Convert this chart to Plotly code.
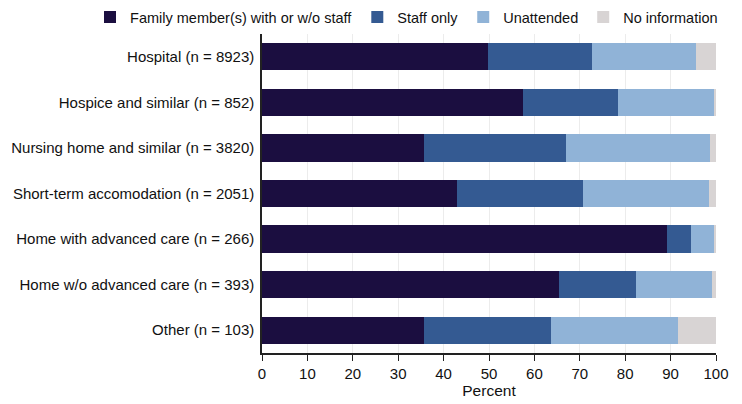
import plotly.graph_objects as go

categories = ['Hospital (n = 8923)', 'Hospice and similar (n = 852)', 'Nursing home and similar (n = 3820)',
              'Short-term accomodation (n = 2051)', 'Home with advanced care (n = 266)',
              'Home w/o advanced care (n = 393)', 'Other (n = 103)']
family = [49.8, 57.4, 35.6, 42.9, 89.1, 65.4, 35.6]
staff_only = [22.9, 21.1, 31.4, 27.8, 5.3, 16.9, 28.1]
unattended = [23.0, 21.1, 31.7, 27.8, 5.3, 16.9, 28.0]
no_info = [4.3, 0.4, 1.3, 1.5, 0.3, 0.8, 8.3]

series = [('Family member(s) with or w/o staff', family, '#1b0e40'),
          ('Staff only', staff_only, '#345a92'),
          ('Unattended', unattended, '#90b3d7'),
          ('No information', no_info, '#d8d4d4')]

fig = go.Figure()
for name, vals, col in series:
    fig.add_trace(go.Bar(y=categories, x=vals, name=name, orientation='h',
                         marker=dict(color=col, line=dict(width=0))))

# page body has an 8px margin, so the figure is sized 734x396
fig.update_layout(
    barmode='stack', bargap=0.4,
    width=734, height=396,
    margin=dict(l=254, r=26, t=26, b=51, autoexpand=False),
    paper_bgcolor='white', plot_bgcolor='white',
    font=dict(family='Liberation Sans, Arial, sans-serif', size=15, color='#111'),
    legend=dict(orientation='h', x=-0.3788, xanchor='left', y=1.053, yanchor='middle',
                font=dict(size=14.5), traceorder='normal', itemwidth=30),
    xaxis=dict(range=[0, 100], dtick=10, showgrid=True, gridcolor='#ececec',
               showline=True, linecolor='#222', linewidth=1.5, ticks='outside',
               ticklen=6, tickcolor='#222', tickfont=dict(size=15),
               title=dict(text='Percent', standoff=0, font=dict(size=15.5)),
               zeroline=False),
    yaxis=dict(autorange='reversed', showline=True, linecolor='#222', linewidth=1.5,
               ticks='', ticklabelstandoff=3, tickfont=dict(size=15)),
)

fig.write_html('out.html')
